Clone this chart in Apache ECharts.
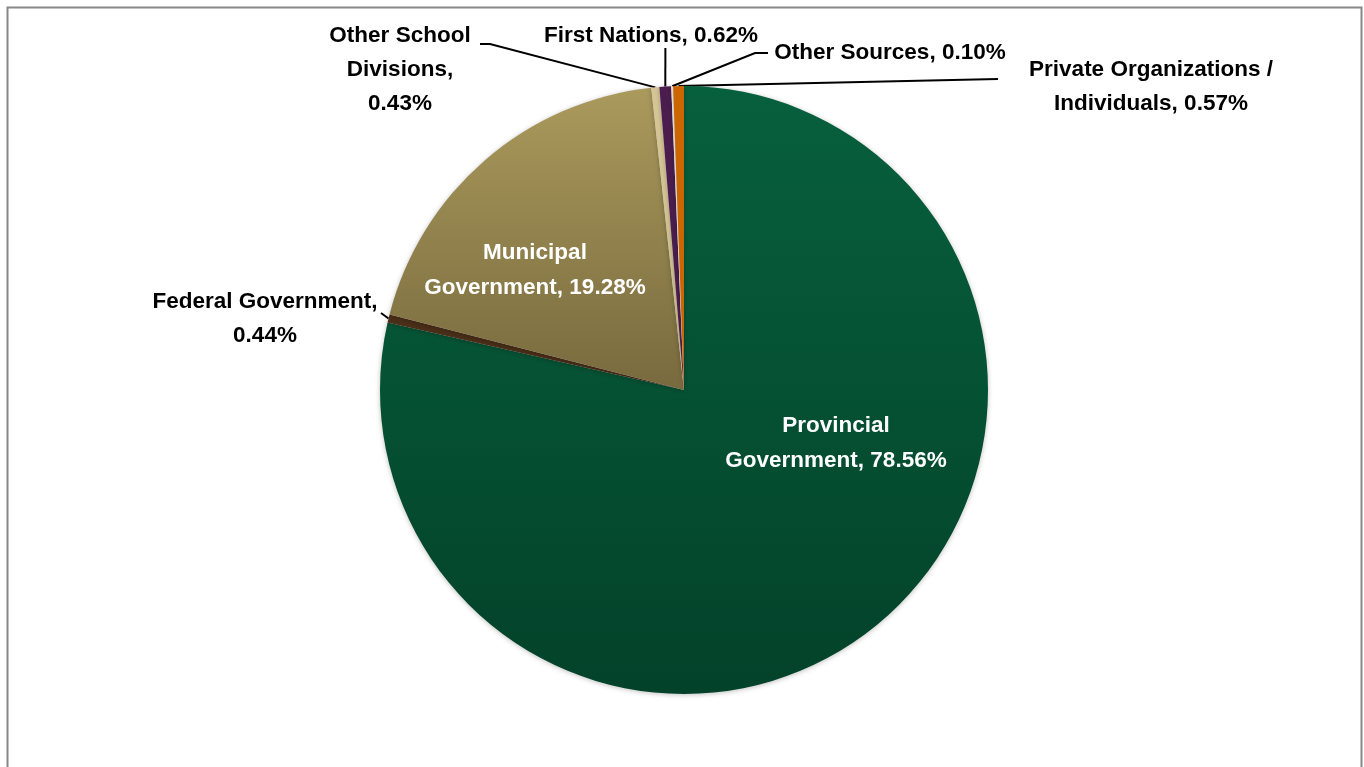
<!DOCTYPE html>
<html>
<head>
<meta charset="utf-8">
<script src="https://cdn.jsdelivr.net/npm/echarts@6/dist/echarts.min.js"></script>
<style>
html,body{margin:0;padding:0;background:#fff;}
#chart{width:1364px;height:767px;}
</style>
</head>
<body>
<div id="chart"></div>
<script>
// Data (clockwise from 12 o'clock)
const categories = ['Provincial Government', 'Federal Government', 'Municipal Government', 'Other School Divisions', 'First Nations', 'Other Sources', 'Private Organizations / Individuals'];
const values = [78.56, 0.44, 19.28, 0.43, 0.62, 0.10, 0.57];
const labelTemplates = [
  'Provincial\nGovernment, {v}%',
  'Federal Government,\n{v}%',
  'Municipal\nGovernment, {v}%',
  'Other School\nDivisions,\n{v}%',
  'First Nations, {v}%',
  'Other Sources, {v}%',
  'Private Organizations /\nIndividuals, {v}%'
];

const colors = [
  {type:'linear',x:0,y:0,x2:0,y2:1,colorStops:[{offset:0,color:'#07603d'},{offset:1,color:'#03422a'}]},
  '#4a2e18',
  {type:'linear',x:0,y:0,x2:0,y2:1,colorStops:[{offset:0,color:'#aa9a5c'},{offset:1,color:'#786a3e'}]},
  '#d6c697',
  '#4b1d4e',
  '#f4f0e6',
  '#cc6600'
];
const inside = [true,false,true,false,false,false,false];

// layout (style) config: label centres relative to the pie centre
const C = [684, 390];
const R = 304;
const labelPos = [
  [152, 53], [-419, -71], [-149, -120], [-284, -320], [-33, -354], [206, -337], [467, -303]
];
// leader line bends/ends relative to the pie centre (after the edge point)
const leaderPts = [
  null,
  [[-303, -77]],
  null,
  [[-194, -346], [-204, -346]],
  [[-18.6, -342]],
  [[71, -337], [84, -337]],
  [[314, -311]]
];

const total = values.reduce((a,b)=>a+b,0);
function edgePoint(i){
  let cum = 0;
  for (let k=0;k<i;k++) cum += values[k];
  const frac = (cum + values[i]/2) / total;
  const a = frac * 2 * Math.PI; // clockwise from 12 o'clock
  return [C[0] + R*Math.sin(a), C[1] - R*Math.cos(a)];
}

const chart = echarts.init(document.getElementById('chart'), null, {renderer:'canvas'});
const FONT = "'Liberation Sans',Arial,sans-serif";
chart.setOption({
  animation:false,
  graphic:[{type:'rect', shape:{x:7.5,y:7.5,width:1354,height:800}, style:{fill:'none',stroke:'#878787',lineWidth:2}, silent:true, z:-1}],
  series:[{
    type:'pie',
    center:C,
    radius:[0,R],
    startAngle:90,
    clockwise:true,
    avoidLabelOverlap:false,
    itemStyle:{borderWidth:0, shadowBlur:5, shadowColor:'rgba(0,0,0,0.25)', shadowOffsetY:1},
    label:{
      fontFamily:FONT, fontWeight:'bold', fontSize:22.5, lineHeight:34, color:'#000', align:'center'
    },
    labelLine:{show:true, lineStyle:{color:'#000', width:2}, length:10, length2:10},
    labelLayout:function(p){
      const i = p.dataIndex;
      const o = labelPos[i];
      const res = {x:C[0]+o[0], y:C[1]+o[1], align:'center', verticalAlign:'middle'};
      if (leaderPts[i]) {
        const pts = [edgePoint(i)];
        leaderPts[i].forEach(q => pts.push([C[0]+q[0], C[1]+q[1]]));
        res.labelLinePoints = pts;
      }
      return res;
    },
    data: categories.map((n,i)=>({
      name:n,
      value:values[i],
      itemStyle:{color:colors[i]},
      label:{
        position: inside[i] ? 'inside' : 'outside',
        color: inside[i] ? '#fff' : '#000',
        lineHeight: inside[i] ? 35 : 34,
        formatter: labelTemplates[i].replace('{v}', values[i].toFixed(2))
      },
      labelLine:{show: !inside[i]}
    }))
  }]
});
</script>
</body>
</html>
